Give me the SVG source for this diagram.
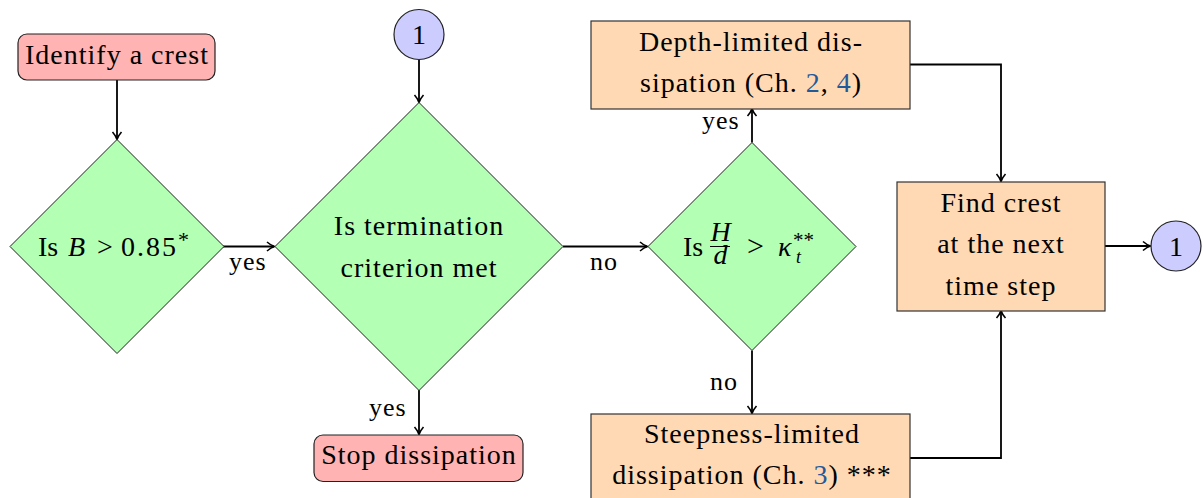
<svg xmlns="http://www.w3.org/2000/svg" width="1203" height="498" viewBox="0 0 1203 498" font-family="'Liberation Serif', 'Times New Roman', serif">
<style>
text{font-family:'Liberation Serif','Times New Roman',serif;font-size:28px;fill:#000;letter-spacing:1px}
.mi{font-style:italic}
.m{letter-spacing:0}
.lbl{font-size:26px}
.start{fill:#FFB3B3;stroke:#222;stroke-width:1.2}
.dec{fill:#B3FFB3;stroke:#222;stroke-width:1}
.proc{fill:#FFD9B3;stroke:#333;stroke-width:1.2}
.conn{fill:#CCCCFF;stroke:#222;stroke-width:1.2}
.edge{fill:none;stroke:#000;stroke-width:1.8}
.link{fill:#1F5B9B}
</style>
<defs>
<marker id="arr" markerWidth="12" markerHeight="12" refX="10" refY="6" orient="auto" markerUnits="userSpaceOnUse">
<path d="M3,1.5 Q7,5 10.5,6 Q7,7 3,10.5" fill="none" stroke="#000" stroke-width="1.6"/>
</marker>
</defs>
<g id="connectors">
<path class="edge" d="M117,80 V139" marker-end="url(#arr)"/>
<path class="edge" d="M223,246.5 H274" marker-end="url(#arr)"/>
<path class="edge" d="M419,60 V102" marker-end="url(#arr)"/>
<path class="edge" d="M419,390 V434" marker-end="url(#arr)"/>
<path class="edge" d="M563,246.5 H647" marker-end="url(#arr)"/>
<path class="edge" d="M752,142.5 V109" marker-end="url(#arr)"/>
<path class="edge" d="M752,350.5 V413" marker-end="url(#arr)"/>
<path class="edge" d="M910,64.5 H1001 V181" marker-end="url(#arr)"/>
<path class="edge" d="M910,458 H1001 V311" marker-end="url(#arr)"/>
<path class="edge" d="M1105,246 H1150" marker-end="url(#arr)"/>
<text class="lbl" x="229" y="270">yes</text>
<text class="lbl" x="369" y="416">yes</text>
<text class="lbl" x="590" y="270">no</text>
<text class="lbl" x="702" y="129">yes</text>
<text class="lbl" x="710" y="390">no</text>
</g>
<g id="identify">
<rect class="start" x="18" y="34" width="197" height="46" rx="9"/>
<text x="117" y="64" text-anchor="middle">Identify a crest</text>
</g>
<g id="isB">
<polygon class="dec" points="117,139.5 224,246.5 117,353.5 10,246.5"/>
<text y="256" class="m"><tspan x="38">Is</tspan><tspan x="68" class="mi">B</tspan><tspan x="97">&gt;</tspan><tspan x="121" letter-spacing="2">0.85</tspan><tspan x="178" dy="-9" font-size="22">*</tspan></text>
</g>
<g id="conn1top">
<circle class="conn" cx="419" cy="34.5" r="25"/>
<text x="419" y="44" text-anchor="middle" class="m">1</text>
</g>
<g id="termination">
<polygon class="dec" points="419,102.5 563,246.5 419,390.5 275,246.5"/>
<text x="419" y="235" text-anchor="middle">Is termination</text>
<text x="419" y="277" text-anchor="middle">criterion met</text>
</g>
<g id="stop">
<rect class="start" x="314" y="435" width="209" height="46.5" rx="9"/>
<text x="419" y="464" text-anchor="middle">Stop dissipation</text>
</g>
<g id="isH">
<polygon class="dec" points="752,142.5 856,246.5 752,350.5 648,246.5"/>
<text x="683" y="256" class="m">Is</text>
<line x1="710" y1="246.5" x2="730" y2="246.5" stroke="#000" stroke-width="1"/>
<text class="m mi" font-size="18" text-anchor="middle"><tspan x="720.5" y="241">H</tspan><tspan x="720.5" y="264">d</tspan></text>
<text y="256" class="m"><tspan x="747" font-size="30">&gt;</tspan><tspan x="778" class="mi">κ</tspan><tspan x="793" dy="-9" font-size="21">**</tspan><tspan x="796" y="263" font-size="18" class="mi">t</tspan></text>
</g>
<g id="depth">
<rect class="proc" x="591" y="21" width="319" height="88"/>
<text x="751" y="51" text-anchor="middle">Depth-limited dis-</text>
<text x="751" y="92" text-anchor="middle">sipation (Ch. <tspan class="link">2</tspan>, <tspan class="link">4</tspan>)</text>
</g>
<g id="steepness">
<rect class="proc" x="591" y="414" width="319" height="100"/>
<text x="752" y="443" text-anchor="middle">Steepness-limited</text>
<text x="752" y="484" text-anchor="middle">dissipation (Ch. <tspan class="link">3</tspan>) ***</text>
</g>
<g id="findcrest">
<rect class="proc" x="897" y="182" width="208" height="129"/>
<text x="1001" y="212" text-anchor="middle">Find crest</text>
<text x="1001" y="253" text-anchor="middle">at the next</text>
<text x="1001" y="295" text-anchor="middle">time step</text>
</g>
<g id="conn1right">
<circle class="conn" cx="1176" cy="246" r="25"/>
<text x="1176" y="255.5" text-anchor="middle" class="m">1</text>
</g>
</svg>
